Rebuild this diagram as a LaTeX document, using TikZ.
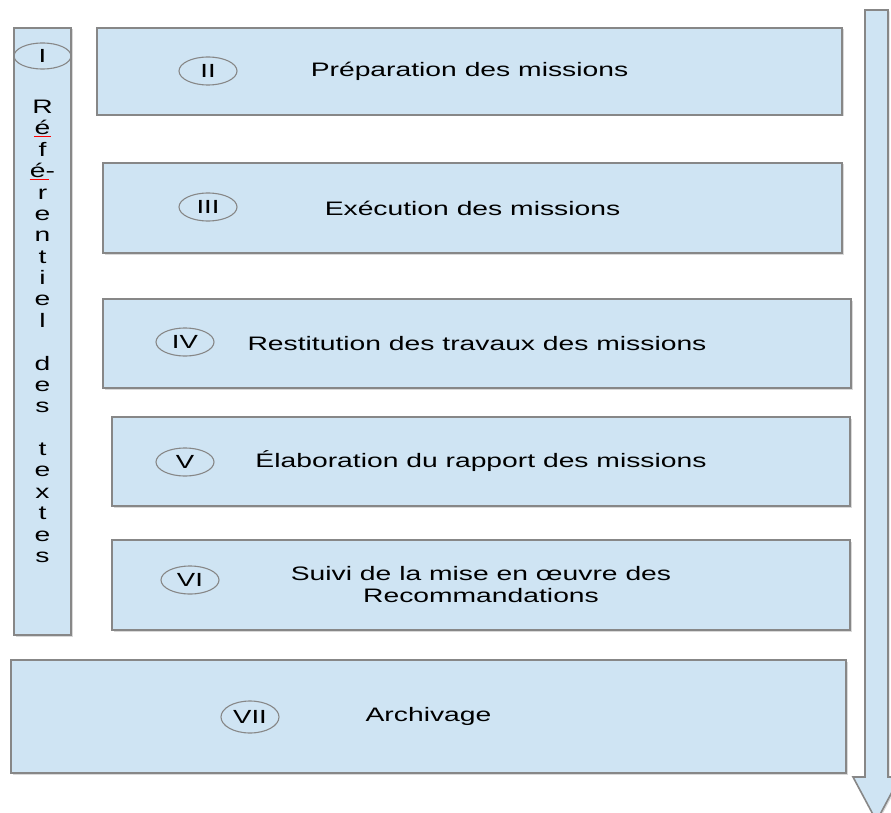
\documentclass[tikz,border=0pt]{standalone}
\usepackage{fontspec}
\setmainfont{Liberation Sans}[FakeStretch=1.45]
\usetikzlibrary{shapes.geometric,shadows}
\definecolor{azulcaja}{RGB}{207,228,243}
\definecolor{grisborde}{RGB}{135,135,135}
\begin{document}
\begin{tikzpicture}[x=1pt,y=-1pt,
    caja/.style={rectangle, draw=grisborde, line width=1.6pt, fill=azulcaja,
      drop shadow={shadow xshift=1.5pt, shadow yshift=-1.5pt, opacity=.3},
      font=\fontsize{19.5}{22}\selectfont, align=center, inner sep=0pt},
    numero/.style={ellipse, draw=grisborde, line width=1.1pt, inner sep=0pt,
      minimum width=58pt, minimum height=28pt, font=\fontsize{19}{22}\selectfont},
    letra/.style={anchor=base, inner sep=0pt, font=\fontsize{19.5}{22}\selectfont}]
    \useasboundingbox (0,0) rectangle (891,813);
    % fleche du temps
    \draw[draw=grisborde, line width=1.6pt, fill=azulcaja, line join=miter,
      drop shadow={shadow xshift=1.5pt, shadow yshift=-1.5pt, opacity=.3}]
      (865,10) -- (888,10) -- (888,777) -- (900,777) -- (876.5,821)
      -- (853,777) -- (865,777) -- cycle;
    % etapes
    \node[caja, minimum width=57, minimum height=607] (etape1) at (42.5,331.5) {};
    \node[caja, minimum width=745, minimum height=87] (etape2) at (469.5,71.5) {Préparation des missions};
    \node[caja, minimum width=739, minimum height=90] (etape3) at (472.5,208) {Exécution des missions};
    \node[caja, minimum width=748, minimum height=89] (etape4) at (477,343.5) {Restitution des travaux des missions};
    \node[caja, minimum width=738, minimum height=89] (etape5) at (481,461.5) {Élaboration du rapport des missions};
    \node[caja, minimum width=738, minimum height=90] (etape6) at (481,585) {Suivi de la mise en œuvre des\\Recommandations};
    \node[caja, minimum width=835, minimum height=113] (etape7) at (428.5,716.5) {Archivage};
    % numeros
    \node[numero, minimum width=57, minimum height=26] (num1) at (42.5,56) {I};
    \node[numero] (num2) at (208,71) {II};
    \node[numero] (num3) at (208,207) {III};
    \node[numero] (num4) at (185,342) {IV};
    \node[numero] (num5) at (185,462) {V};
    \node[numero] (num6) at (190,580) {VI};
    \node[numero, minimum height=32] (num7) at (250,717) {VII};
    % texte vertical
    \foreach \l [count=\i] in {R,é,f,é-,r,e,n,t,i,e,l,{},d,e,s,{},t,e,x,t,e,s}
      \node[letra] (let\i) at (42.5,{113.5+21.38*(\i-1)}) {\l};
    \draw[red, line width=1.2pt] ([yshift=-1.5pt]let2.base west) -- ([yshift=-1.5pt]let2.base east);
    \draw[red, line width=1.2pt] ([yshift=-1.5pt]let4.base west) -- ([yshift=-1.5pt,xshift=-6pt]let4.base east);
\end{tikzpicture}
\end{document}
